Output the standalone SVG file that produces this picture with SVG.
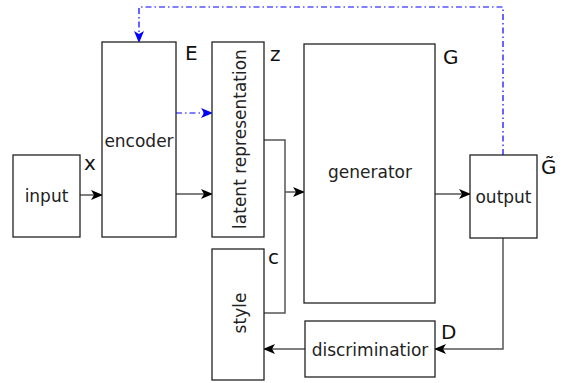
<svg xmlns="http://www.w3.org/2000/svg" width="564" height="383" viewBox="0 0 564 383">
<defs>
<marker id="ah" viewBox="0 0 12 10" refX="11" refY="5" markerWidth="12" markerHeight="10" markerUnits="userSpaceOnUse" orient="auto">
<path d="M0,0 L12,5 L0,10 L3,5 z" fill="#000"/>
</marker>
<marker id="ahb" viewBox="0 0 12 10" refX="11" refY="5" markerWidth="12" markerHeight="10" markerUnits="userSpaceOnUse" orient="auto">
<path d="M0,0 L12,5 L0,10 L3,5 z" fill="#0000ff"/>
</marker>
</defs>
<style>
.box{fill:#fff;stroke:#222;stroke-width:1.3}
.t{font-family:"DejaVu Sans",sans-serif;font-size:17px;fill:#222;text-anchor:middle}
.lb{font-family:"DejaVu Sans",sans-serif;font-size:20px;fill:#111}
.e{fill:none;stroke:#555;stroke-width:1.5}
.eb{fill:none;stroke:#0000ff;stroke-width:1.2;stroke-dasharray:6,3,1.5,3}
</style>
<rect width="564" height="383" fill="#fff"/>
<g id="connectors">
<line class="e" x1="80" y1="195" x2="102" y2="195" marker-end="url(#ah)"/>
<line class="e" x1="176" y1="194" x2="212" y2="194" marker-end="url(#ah)"/>
<line class="eb" x1="176" y1="113" x2="212" y2="113" marker-end="url(#ahb)"/>
<polyline class="e" points="264,140 285,140 285,313 264,313"/>
<line class="e" x1="285" y1="192" x2="304" y2="192" marker-end="url(#ah)"/>
<line class="e" x1="435" y1="194" x2="470" y2="194" marker-end="url(#ah)"/>
<polyline class="e" points="503,238 503,349 435,349" marker-end="url(#ah)"/>
<line class="e" x1="305" y1="349" x2="264" y2="349" marker-end="url(#ah)"/>
<polyline class="eb" points="503,155 503,7 139,7 139,42" marker-end="url(#ahb)"/>
</g>
<g id="input">
<rect class="box" x="13" y="155" width="67" height="82"/>
<text class="t" x="46.5" y="202">input</text>
<text class="lb" x="84" y="170">x</text>
</g>
<g id="encoder">
<rect class="box" x="102" y="42" width="74" height="195"/>
<text class="t" x="139" y="147">encoder</text>
<text class="lb" x="185" y="60">E</text>
</g>
<g id="latent">
<rect class="box" x="212" y="42" width="52" height="195"/>
<text class="t" transform="translate(246,139) rotate(-90)">latent representation</text>
<text class="lb" x="270" y="61">z</text>
</g>
<g id="style">
<rect class="box" x="212" y="249" width="52" height="131"/>
<text class="t" transform="translate(246,313) rotate(-90)">style</text>
<text class="lb" x="268" y="264">c</text>
</g>
<g id="generator">
<rect class="box" x="304" y="44" width="131" height="259"/>
<text class="t" x="370" y="178">generator</text>
<text class="lb" x="443" y="64">G</text>
</g>
<g id="output">
<rect class="box" x="470" y="155" width="67" height="83"/>
<text class="t" x="503.5" y="203">output</text>
<text class="lb" x="541" y="174">G̃</text>
</g>
<g id="discriminator">
<rect class="box" x="305" y="321" width="130" height="56"/>
<text class="t" x="370" y="356">discriminatior</text>
<text class="lb" x="441" y="339">D</text>
</g>
</svg>
